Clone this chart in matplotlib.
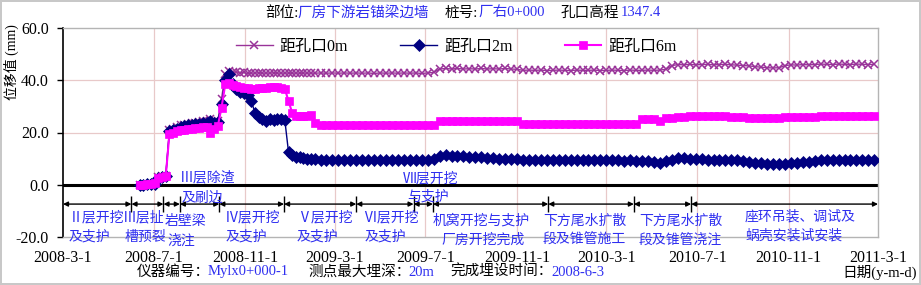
import datetime as dt
import matplotlib
matplotlib.use("Agg")
import matplotlib.pyplot as plt
import matplotlib.dates as mdates

W, H = 921, 285
FONTS = ['Liberation Serif', 'Noto Sans CJK SC', 'DejaVu Sans']
plt.rcParams['font.family'] = FONTS

# ---------------- data ----------------
dates = [
    "2008-06-12", "2008-06-17", "2008-06-22", "2008-06-27", "2008-07-02", "2008-07-07",
    "2008-07-12", "2008-07-17", "2008-07-22", "2008-07-27", "2008-08-01", "2008-08-06",
    "2008-08-11", "2008-08-16", "2008-08-21", "2008-08-26", "2008-08-31", "2008-09-05",
    "2008-09-10", "2008-09-15", "2008-09-20", "2008-09-25", "2008-09-30", "2008-10-05",
    "2008-10-10", "2008-10-15", "2008-10-20", "2008-10-25", "2008-10-30", "2008-11-04",
    "2008-11-09", "2008-11-14", "2008-11-19", "2008-11-24", "2008-11-29", "2008-12-04",
    "2008-12-09", "2008-12-14", "2008-12-19", "2008-12-24", "2008-12-29", "2009-01-03",
    "2009-01-08", "2009-01-13", "2009-01-18", "2009-01-23", "2009-01-28", "2009-02-02",
    "2009-02-10", "2009-02-18", "2009-02-26", "2009-03-06", "2009-03-14", "2009-03-22",
    "2009-03-30", "2009-04-07", "2009-04-15", "2009-04-23", "2009-05-01", "2009-05-09",
    "2009-05-17", "2009-05-25", "2009-06-02", "2009-06-10", "2009-06-18", "2009-06-26",
    "2009-07-04", "2009-07-12", "2009-07-20", "2009-07-28", "2009-08-05", "2009-08-13",
    "2009-08-21", "2009-08-29", "2009-09-06", "2009-09-14", "2009-09-22", "2009-09-30",
    "2009-10-08", "2009-10-16", "2009-10-24", "2009-11-01", "2009-11-09", "2009-11-17",
    "2009-11-25", "2009-12-03", "2009-12-11", "2009-12-19", "2009-12-27", "2010-01-04",
    "2010-01-12", "2010-01-20", "2010-01-28", "2010-02-05", "2010-02-13", "2010-02-21",
    "2010-03-01", "2010-03-09", "2010-03-17", "2010-03-25", "2010-04-02", "2010-04-10",
    "2010-04-18", "2010-04-26", "2010-05-04", "2010-05-12", "2010-05-20", "2010-05-28",
    "2010-06-05", "2010-06-13", "2010-06-21", "2010-06-29", "2010-07-07", "2010-07-15",
    "2010-07-23", "2010-07-31", "2010-08-08", "2010-08-16", "2010-08-24", "2010-09-01",
    "2010-09-09", "2010-09-17", "2010-09-25", "2010-10-03", "2010-10-11", "2010-10-19",
    "2010-10-27", "2010-11-04", "2010-11-12", "2010-11-20", "2010-11-28", "2010-12-06",
    "2010-12-14", "2010-12-22", "2010-12-30", "2011-01-07", "2011-01-15", "2011-01-23",
    "2011-01-31", "2011-02-08", "2011-02-16", "2011-02-24",
]

d0m = [
    0.0, 0.0, 0.2, 0.3, 0.5, 2.8, 3.3, 3.5, 21.0, 21.5, 22.0, 22.8,
    23.0, 23.2, 23.5, 23.8, 24.0, 24.3, 24.5, 25.0, 24.0, 24.5, 33.0, 42.5,
    43.5, 43.0, 43.2, 42.8, 43.0, 42.6, 42.8, 42.7, 42.9, 42.7, 42.8, 42.7,
    42.9, 42.7, 42.8, 42.7, 42.8, 42.7, 42.8, 42.7, 42.8, 42.7, 42.8, 42.7,
    42.8, 42.7, 42.8, 42.7, 42.8, 42.7, 42.8, 42.7, 42.8, 42.6, 42.8, 42.7,
    42.8, 42.7, 42.8, 42.7, 42.8, 42.6, 42.8, 43.0, 44.3, 44.5, 44.3, 44.5,
    44.3, 44.4, 44.3, 44.5, 44.3, 44.4, 44.3, 44.5, 44.3, 44.2, 43.8, 43.9,
    43.8, 43.9, 43.7, 43.8, 43.9, 43.8, 43.7, 43.9, 43.8, 43.8, 43.9, 43.7,
    43.8, 43.9, 43.8, 43.7, 43.9, 43.8, 43.8, 43.9, 43.8, 43.9, 44.2, 45.6,
    46.0, 45.9, 46.1, 45.9, 46.0, 46.1, 45.9, 46.0, 46.1, 45.9, 45.8, 45.6,
    45.5, 45.2, 45.0, 44.8, 44.7, 44.8, 45.6, 45.9, 45.8, 46.0, 45.9, 46.0,
    46.2, 46.1, 46.0, 46.2, 46.1, 46.0, 46.2, 46.1, 46.0, 46.1,
]

d2m = [
    0.0, 0.0, 0.1, 0.2, 0.4, 2.6, 3.1, 3.2, 20.5, 21.0, 21.5, 22.0,
    22.5, 22.8, 23.0, 23.2, 23.4, 23.6, 23.8, 24.5, 23.5, 24.0, 31.0, 40.0,
    42.3, 38.5, 36.5, 35.5, 35.0, 34.5, 32.0, 27.5, 26.0, 25.0, 24.5, 25.0,
    24.8, 25.0, 25.2, 24.8, 12.5, 11.5, 10.8, 10.5, 10.2, 10.0, 9.8, 9.8,
    9.5, 9.6, 9.4, 9.5, 9.4, 9.3, 9.5, 9.4, 9.3, 9.4, 9.5, 9.4,
    9.3, 9.5, 9.4, 9.4, 9.3, 9.5, 9.4, 9.8, 11.0, 11.2, 11.0, 11.1,
    10.9, 10.8, 10.6, 10.5, 10.4, 10.2, 10.0, 10.0, 9.9, 9.8, 9.6, 9.6,
    9.5, 9.5, 9.5, 9.4, 9.5, 9.4, 9.4, 9.5, 9.4, 9.3, 9.4, 9.4,
    9.3, 9.4, 9.3, 9.2, 9.3, 9.2, 9.1, 9.0, 8.6, 8.2, 9.2, 9.6,
    10.2, 10.3, 10.0, 9.8, 9.7, 9.6, 9.6, 9.5, 9.4, 9.5, 9.4, 9.2,
    8.8, 8.5, 8.2, 8.0, 7.9, 7.9, 8.1, 8.2, 8.4, 8.6, 8.8, 9.0,
    9.3, 9.5, 9.6, 9.6, 9.5, 9.5, 9.4, 9.5, 9.6, 9.5,
]

d6m = [
    0.0, 0.0, 0.2, 0.3, 0.5, 2.5, 3.0, 3.2, 19.5, 20.0, 20.5, 20.8,
    21.0, 21.2, 21.3, 21.6, 21.8, 22.0, 22.2, 19.8, 21.5, 22.5, 29.5, 38.5,
    39.0, 38.0, 37.8, 37.5, 37.2, 37.0, 36.8, 36.8, 37.0, 37.0, 37.2, 37.5,
    37.5, 37.3, 37.0, 36.8, 32.0, 27.5, 26.5, 26.3, 26.5, 26.4, 26.6, 23.5,
    23.0, 23.0, 22.9, 23.0, 23.0, 22.9, 23.0, 23.0, 23.0, 22.9, 23.0, 23.0,
    23.0, 22.9, 23.0, 23.0, 23.0, 23.0, 23.0, 23.0, 24.3, 24.4, 24.5, 24.4,
    24.5, 24.4, 24.5, 24.4, 24.5, 24.4, 24.5, 24.4, 24.5, 24.4, 23.2, 23.1,
    23.2, 23.2, 23.1, 23.2, 23.1, 23.2, 23.2, 23.1, 23.2, 23.2, 23.1, 23.2,
    23.2, 23.1, 23.2, 23.2, 23.1, 23.2, 25.0, 25.1, 25.2, 24.3, 25.5, 25.7,
    25.8, 25.9, 26.2, 26.3, 26.3, 26.4, 26.3, 26.3, 26.2, 26.0, 25.9, 25.8,
    25.7, 25.6, 25.6, 25.5, 25.5, 25.6, 25.8, 25.9, 25.9, 26.0, 26.0, 26.1,
    26.2, 26.3, 26.2, 26.3, 26.2, 26.3, 26.2, 26.3, 26.2, 26.3,
]

series_names = ["距孔口0m", "距孔口2m", "距孔口6m"]

x_ticks = ["2008-03-01", "2008-07-01", "2008-11-01", "2009-03-01", "2009-07-01",
           "2009-11-01", "2010-03-01", "2010-07-01", "2010-11-01", "2011-03-01"]
x_tick_labels = ["2008-3-1", "2008-7-1", "2008-11-1", "2009-3-1", "2009-7-1",
                 "2009-11-1", "2010-3-1", "2010-7-1", "2010-11-1", "2011-3-1"]
y_ticks = [-20, 0, 20, 40, 60]

phase_bounds = ["2008-03-01", "2008-06-01", "2008-07-14", "2008-08-05", "2008-09-27",
                "2008-12-23", "2009-03-30", "2009-06-15", "2009-07-11", "2009-12-13",
                "2010-04-07", "2010-06-23", "2011-03-01"]

def D(s):
    return dt.datetime.strptime(s, "%Y-%m-%d")

xd = [D(s) for s in dates]

# ---------------- figure ----------------
fig = plt.figure(figsize=(W / 100, H / 100), dpi=100)
fig.patch.set_facecolor("white")
fig.patch.set_edgecolor("#C8C8C8")
fig.patch.set_linewidth(1.5)

L, R, T, B = 63, 878, 28, 237
ax = fig.add_axes([L / W, 1 - B / H, (R - L) / W, (B - T) / H])

ax.set_xlim(D(x_ticks[0]), D(x_ticks[-1]))
ax.set_ylim(-20, 60)

grid_c = "#E8C9C9"
for t in x_ticks[1:-1]:
    ax.axvline(D(t), color=grid_c, lw=0.9, zorder=0)
for v in [20, 40]:
    ax.axhline(v, color=grid_c, lw=0.9, zorder=0)

ax.axhline(0, color="black", lw=2.2, zorder=2)

ax.plot(xd, d0m, color="#993399", lw=1.0, marker="x", ms=6, mew=1.1,
        label=series_names[0], zorder=3)
ax.plot(xd, d2m, color="#000080", lw=1.0, marker="D", ms=5.8, mew=0.5,
        label=series_names[1], zorder=4)
ax.plot(xd, d6m, color="#FF00FF", lw=1.5, marker="s", ms=6.3, mew=0.5,
        label=series_names[2], zorder=5)

ax.set_xticks([D(t) for t in x_ticks])
ax.set_xticklabels(x_tick_labels, fontsize=11.5)
ax.tick_params(axis="x", length=0, pad=9)
ax.set_yticks(y_ticks)
ax.set_yticklabels([f"{v:.1f}" for v in y_ticks], fontsize=11.5)
ax.tick_params(axis="y", direction="out", length=4, width=1, pad=6)

ax.spines["left"].set_color("black")
ax.spines["left"].set_linewidth(1.2)
for s in ["top", "right", "bottom"]:
    ax.spines[s].set_color("#B4B4B4")
    ax.spines[s].set_linewidth(1.0)

# phase arrows
ya = -7.4
pb = [D(s) for s in phase_bounds]
for a, b in zip(pb[:-1], pb[1:]):
    ax.annotate("", xy=(b, ya), xytext=(a, ya),
                arrowprops=dict(arrowstyle="<|-|>", color="black", lw=1.0,
                                shrinkA=0, shrinkB=0, mutation_scale=7),
                zorder=2)
ax.vlines(pb[1:-1], -10.3, -4.3, color="black", lw=1.0, zorder=2)

leg = ax.legend(loc="center left", bbox_to_anchor=(236 / W, 1 - 47 / H),
                bbox_transform=fig.transFigure, ncol=3, frameon=False,
                fontsize=11.5, handlelength=2.3, handletextpad=0.45,
                columnspacing=3.25, borderpad=0, borderaxespad=0)

BLUE = "#2F2FF0"

def ftext(px, py, s, color="black", size=10, ha="left", **kw):
    fig.text(px / W, 1 - py / H, s, color=color, fontsize=size, ha=ha,
             va="center", family=FONTS, **kw)

# phase labels
labels = [
    (69, 217, "Ⅱ层开挖", 69, 237, "及支护"),
    (123, 217, "Ⅲ层扯", 125, 237, "槽预裂"),
    (165, 221, "岩壁梁", 167, 241, "浇注"),
    (180, 178, "Ⅲ层除渣", 182, 198, "及刷边"),
    (225, 217, "Ⅳ层开挖", 226, 237, "及支护"),
    (297, 217, "Ⅴ层开挖", 297, 237, "及支护"),
    (363, 217, "Ⅵ层开挖", 365, 237, "及支护"),
    (403, 178, "Ⅶ层开挖", 407, 197, "与支护"),
    (433, 221, "机窝开挖与支护", 441, 240, "厂房开挖完成"),
    (543, 221, "下方尾水扩散", 543, 240, "段及锥管施工"),
    (639, 221, "下方尾水扩散", 639, 240, "段及锥管浇注"),
    (745, 217, "座环吊装、调试及", 745, 236, "蜗壳安装试安装"),
]
for x1, y1, s1, x2, y2, s2 in labels:
    ftext(x1, y1, s1, BLUE)
    ftext(x2, y2, s2, BLUE)

# title row
ftext(265, 13, "部位:", "black", 10.5)
ftext(297, 13, "厂房下游岩锚梁边墙", BLUE, 10.5)
ftext(445, 13, "桩号:", "black", 10.5)
ftext(478, 13, "厂右0+000", BLUE, 10.5)
ftext(560, 13, "孔口高程", "black", 10.5)
ftext(621, 13, "1347.4", BLUE, 10.5)

# bottom row
ftext(137, 272, "仪器编号：", "black", 10.5)
ftext(208, 272, "Mylx0+000-1", BLUE, 10.5)
ftext(308, 272, "测点最大埋深：", "black", 10.5)
ftext(408, 272, "20m", BLUE, 10.5)
ftext(450, 272, "完成埋设时间：", "black", 10.5)
ftext(551, 272, "2008-6-3", BLUE, 10.5)
ftext(842, 272, "日期(y-m-d)", "black", 10.5)

# y label
ftext(11, 62, "位移值 (mm)", "black", 10, ha="center", rotation=90)

fig.savefig("out.png", dpi=100, facecolor="white", edgecolor=fig.get_edgecolor())
